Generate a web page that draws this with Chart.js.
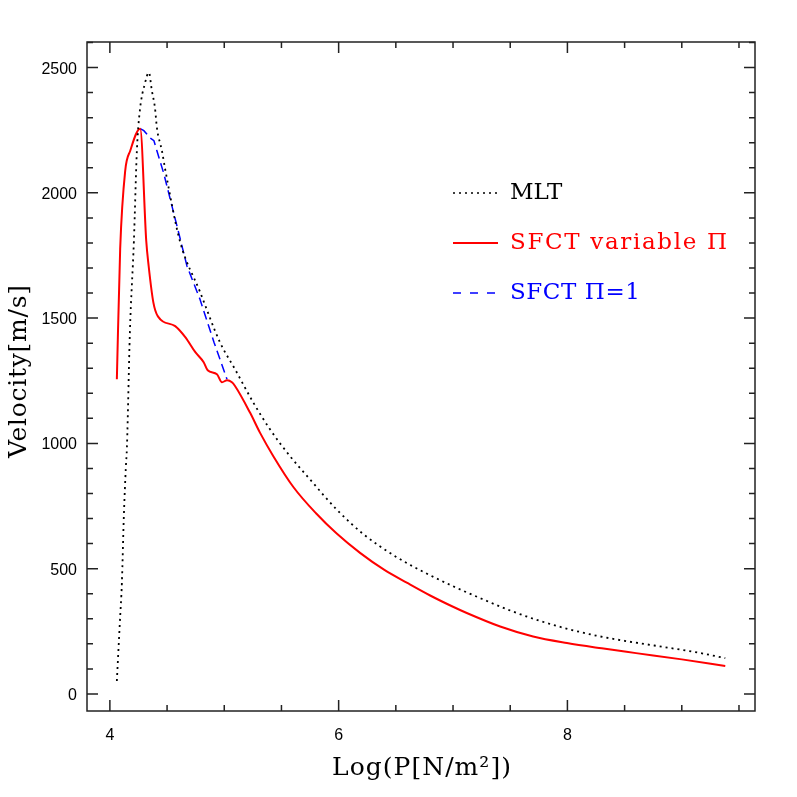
<!DOCTYPE html>
<html>
<head>
<meta charset="utf-8">
<script src="https://cdn.jsdelivr.net/npm/chart.js@4.4.0/dist/chart.umd.min.js"></script>
<style>
  html, body { margin: 0; padding: 0; background: #fff; }
  canvas { display: block; }
</style>
</head>
<body>
<canvas id="c" width="797" height="797"></canvas>
<script>
// values
const mltX = [4.061, 4.087, 4.105, 4.122, 4.14, 4.149, 4.175, 4.21, 4.236, 4.262, 4.306, 4.341, 4.367, 4.394, 4.411, 4.455, 4.481, 4.612, 4.787, 4.962, 5.094, 5.254, 5.40, 5.575, 5.75, 5.983, 6.216, 6.5, 6.75, 7.0, 7.25, 7.5, 7.75, 8.0, 8.25, 8.5, 8.75, 9.0, 9.2, 9.38];
const mltY = [52, 284, 444, 708, 908, 984, 1444, 1808, 2168, 2328, 2436, 2480, 2408, 2340, 2260, 2168, 2100, 1808, 1606, 1404, 1296, 1163, 1056, 949, 856, 736, 638, 548, 485, 430, 380, 333, 293, 260, 233, 212, 194, 176, 160, 143];

const sfctX = [4.061, 4.09, 4.134, 4.178, 4.265, 4.318, 4.339, 4.38, 4.42, 4.571, 4.659, 4.747, 4.82, 4.855, 4.936, 4.98, 5.024, 5.067, 5.094, 5.225, 5.312, 5.429, 5.604, 5.8, 5.983, 6.187, 6.4, 6.6, 6.8, 7.0, 7.12, 7.412, 7.70, 7.996, 8.3, 8.6, 9.0, 9.38];
const sfctY = [1256, 1776, 2088, 2168, 2256, 1808, 1708, 1563, 1507, 1468, 1424, 1364, 1324, 1292, 1276, 1244, 1252, 1244, 1229, 1123, 1043, 949, 826, 722, 640, 563, 495, 443, 393, 348, 323, 269, 229, 203, 182, 163, 138, 112];

const pi1X = [4.265, 4.297, 4.35, 4.385, 4.411, 4.472, 4.516, 4.56, 4.604, 4.674, 4.787, 4.91, 5.024];
const pi1Y = [2256, 2248, 2220, 2208, 2168, 2076, 1996, 1916, 1836, 1708, 1576, 1404, 1256];

const xTicks = [4, 6, 8];
const yTicks = [0, 500, 1000, 1500, 2000, 2500];

const xTitle = 'Log(P[N/m\u00B2])';
const yTitle = 'Velocity[m/s]';

const pts = (xs, ys) => xs.map((x, i) => ({x: x, y: ys[i]}));

const legendItems = [
  {label: 'MLT', color: '#000', dash: [2, 4], width: 1.5, fit: 0},
  {label: 'SFCT variable \u03A0', color: '#ff0000', dash: [], width: 2, fit: 217},
  {label: 'SFCT \u03A0=1', color: '#0000ff', dash: [8, 9], width: 1.5, fit: 130}
];

// draw text stretched with letter spacing to a given width
function fitText(ctx, text, x, y, target) {
  ctx.letterSpacing = '0px';
  if (target) {
    const w = ctx.measureText(text).width;
    const sp = (target - w) / Math.max(1, text.length - 1);
    ctx.letterSpacing = sp.toFixed(2) + 'px';
  }
  ctx.fillText(text, x, y);
  ctx.letterSpacing = '0px';
}

// inward ticks on all four sides, tick labels, frame, titles, legend
const framePlugin = {
  id: 'frame',
  afterDraw(chart) {
    const {ctx, chartArea: a, scales: {x, y}} = chart;
    ctx.save();
    ctx.strokeStyle = '#222';
    ctx.lineWidth = 1.5;
    ctx.strokeRect(a.left, a.top, a.right - a.left, a.bottom - a.top);

    ctx.beginPath();
    for (let v = 4; v <= 9.5; v += 0.5) {
      const px = x.getPixelForValue(v);
      const len = (v % 2 === 0) ? 11 : 6;
      ctx.moveTo(px, a.bottom); ctx.lineTo(px, a.bottom - len);
      ctx.moveTo(px, a.top); ctx.lineTo(px, a.top + len);
    }
    for (let v = 0; v <= 2600; v += 100) {
      const py = y.getPixelForValue(v);
      const len = (v % 500 === 0) ? 11 : 6;
      ctx.moveTo(a.left, py); ctx.lineTo(a.left + len, py);
      ctx.moveTo(a.right, py); ctx.lineTo(a.right - len, py);
    }
    ctx.stroke();

    // tick labels
    ctx.fillStyle = '#000';
    ctx.font = '16px "Liberation Sans", Arial, sans-serif';
    ctx.textBaseline = 'alphabetic';
    ctx.textAlign = 'center';
    xTicks.forEach(v => ctx.fillText(String(v), x.getPixelForValue(v), a.bottom + 29));
    ctx.textAlign = 'right';
    yTicks.forEach(v => ctx.fillText(String(v), a.left - 10, y.getPixelForValue(v) + 6));

    // axis titles
    ctx.font = '25px "DejaVu Serif", serif';
    ctx.textBaseline = 'middle';
    ctx.textAlign = 'left';
    const cx = (a.left + a.right) / 2;
    ctx.save();
    ctx.translate(cx - 89, 768);
    fitText(ctx, xTitle, 0, 0, 179);
    ctx.restore();
    ctx.save();
    ctx.translate(19, 458);
    ctx.rotate(-Math.PI / 2);
    fitText(ctx, yTitle, 0, 0, 173);
    ctx.restore();

    // legend
    ctx.font = '23px "DejaVu Serif", serif';
    legendItems.forEach((it, i) => {
      const ly = 193 + i * 50;
      ctx.beginPath();
      ctx.strokeStyle = it.color;
      ctx.lineWidth = it.width;
      ctx.setLineDash(it.dash);
      ctx.moveTo(453, ly); ctx.lineTo(498, ly);
      ctx.stroke();
      ctx.setLineDash([]);
      ctx.fillStyle = it.color;
      fitText(ctx, it.label, 510, ly, it.fit);
    });
    ctx.restore();
  }
};

new Chart(document.getElementById('c'), {
  type: 'scatter',
  data: {
    datasets: [
      {
        label: 'MLT',
        data: pts(mltX, mltY),
        showLine: true,
        borderColor: '#000',
        borderWidth: 1.8,
        borderDash: [2, 4],
        pointRadius: 0,
        cubicInterpolationMode: 'monotone'
      },
      {
        label: 'SFCT variable \u03A0',
        data: pts(sfctX, sfctY),
        showLine: true,
        borderColor: '#ff0000',
        borderWidth: 2,
        pointRadius: 0,
        cubicInterpolationMode: 'monotone'
      },
      {
        label: 'SFCT \u03A0=1',
        data: pts(pi1X, pi1Y),
        showLine: true,
        borderColor: '#0000ff',
        borderWidth: 1.5,
        borderDash: [9, 5],
        pointRadius: 0
      }
    ]
  },
  options: {
    responsive: false,
    devicePixelRatio: 1,
    animation: false,
    layout: {padding: {left: 0, right: 42, top: 42, bottom: 0}},
    plugins: {legend: {display: false}, tooltip: {enabled: false}},
    scales: {
      x: {
        type: 'linear',
        min: 3.80,
        max: 9.64,
        grid: {display: false},
        border: {display: false},
        afterBuildTicks: s => { s.ticks = xTicks.map(v => ({value: v})); },
        afterFit: s => { s.height = 86; },
        ticks: {display: false}
      },
      y: {
        type: 'linear',
        min: -68,
        max: 2602,
        grid: {display: false},
        border: {display: false},
        afterBuildTicks: s => { s.ticks = yTicks.map(v => ({value: v})); },
        afterFit: s => { s.width = 87; },
        ticks: {display: false}
      }
    }
  },
  plugins: [framePlugin]
});
</script>
</body>
</html>
